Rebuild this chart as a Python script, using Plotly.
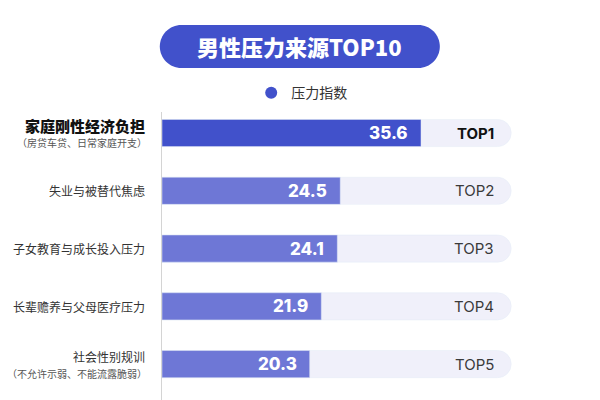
import plotly.graph_objects as go

# data
categories = ["家庭刚性经济负担", "失业与被替代焦虑", "子女教育与成长投入压力",
              "长辈赡养与父母医疗压力", "社会性别规训"]
notes = ["（房贷车贷、日常家庭开支）", "", "", "", "（不允许示弱、不能流露脆弱）"]
values = [35.6, 24.5, 24.1, 21.9, 20.3]
ranks = ["TOP1", "TOP2", "TOP3", "TOP4", "TOP5"]
track_max = [48] * len(categories)

DARK = "#4151cb"
LIGHT = "#6e77d6"
TRACK = "#f0f0fa"
FONT = "Noto Sans CJK SC"

bar_colors = [DARK] + [LIGHT] * (len(values) - 1)

fig = go.Figure()

# background track
fig.add_trace(go.Bar(
    y=categories, x=track_max, orientation="h",
    marker=dict(color=TRACK, cornerradius="50%"),
    width=0.47, showlegend=False, hoverinfo="skip",
))
# value bars
fig.add_trace(go.Bar(
    y=categories, x=values, orientation="h",
    marker=dict(color=bar_colors, cornerradius="50%"),
    width=0.47, showlegend=False, name="压力指数",
))
# legend entry as a round dot
fig.add_trace(go.Scatter(
    x=[None], y=[None], mode="markers", name="压力指数",
    marker=dict(color=DARK, size=12, symbol="circle"),
))

ann = []
for i, (cat, note, v, r) in enumerate(zip(categories, notes, values, ranks)):
    first = i == 0
    # value label inside bar end
    ann.append(dict(x=v, y=cat, xref="x", yref="y", text=str(v),
                    xanchor="right", xshift=-11, showarrow=False,
                    font=dict(family="Inter, " + FONT, size=17, color="white", weight=800)))
    # rank label at right of track
    ann.append(dict(x=track_max[i], y=cat, xref="x", yref="y", text=r,
                    xanchor="right", xshift=-15, showarrow=False,
                    font=dict(family="Inter, " + FONT, size=15,
                              weight=700 if first else 400,
                              color="#111111" if first else "#3a3a3a")))
    # category label on the left
    ann.append(dict(x=0, y=cat, xref="paper", yref="y", text=cat,
                    xanchor="right", xshift=-15, yshift=8 if note else 0,
                    showarrow=False,
                    font=dict(family=FONT, size=15 if first else 12,
                              weight=900 if first else 400,
                              color="#111111" if first else "#333333")))
    if note:
        ann.append(dict(x=0, y=cat, xref="paper", yref="y", text=note,
                        xanchor="right", xshift=-13, yshift=-9, showarrow=False,
                        font=dict(family=FONT, size=10, color="#555555")))

# title inside a pill
PX, PY = 0.309, 1.2213
ann.append(dict(x=PX, y=PY, xref="paper", yref="paper",
                xanchor="center", yanchor="middle",
                text="男性压力来源TOP10", showarrow=False,
                font=dict(family=FONT, size=22, color="white", weight=900)))

k = 11.87
pill = (f"M -118.5,-21.5 L 118.5,-21.5 C {118.5+k},-21.5 140,-{k} 140,0 "
        f"C 140,{k} {118.5+k},21.5 118.5,21.5 L -118.5,21.5 "
        f"C -{118.5+k},21.5 -140,{k} -140,0 C -140,-{k} -{118.5+k},-21.5 -118.5,-21.5 Z")

fig.update_layout(
    width=600, height=400,
    margin=dict(l=154, r=0, t=104, b=0),
    paper_bgcolor="white", plot_bgcolor="white",
    barmode="overlay",
    font=dict(family=FONT),
    xaxis=dict(range=[0, 61.3], visible=False, fixedrange=True),
    yaxis=dict(type="category", range=[4.76, -0.364], showticklabels=False,
               showgrid=False, zeroline=False, ticks="",
               showline=True, linecolor="#d4d4d4", linewidth=1),
    legend=dict(orientation="h", x=0.2, y=1.064, xanchor="left", yanchor="middle",
                font=dict(family=FONT, size=14, color="#333333"),
                bgcolor="rgba(0,0,0,0)"),
    annotations=ann,
    shapes=[dict(type="path", xref="paper", yref="paper",
                 xsizemode="pixel", ysizemode="pixel",
                 xanchor=PX, yanchor=PY, path=pill,
                 fillcolor=DARK, line=dict(width=0), layer="below")],
)

fig.write_html("out.html")
